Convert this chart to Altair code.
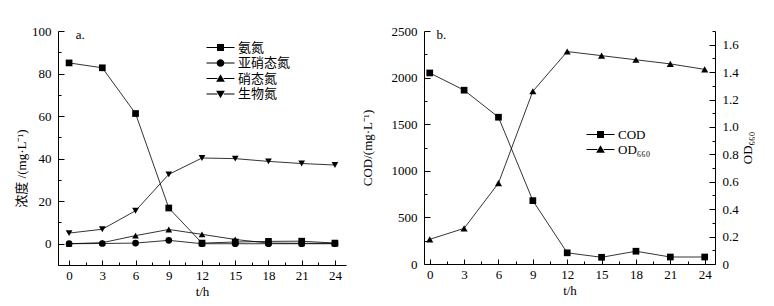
import altair as alt
import pandas as pd

# ---------------- data ----------------
hours = [0, 3, 6, 9, 12, 15, 18, 21, 24]

series_a = ["氨氮", "亚硝态氮", "硝态氮", "生物氮"]
ammonia = [85.0, 82.7, 61.2, 16.8, 0.3, 0.8, 1.1, 1.2, 0.3]
nitrite = [0.0, 0.1, 0.3, 1.6, 0.0, 0.0, 0.0, 0.0, 0.0]
nitrate = [0.0, 0.5, 3.8, 6.7, 4.4, 2.0, 0.3, 0.2, 0.2]
bio_n = [5.0, 6.8, 15.5, 32.6, 40.3, 40.0, 38.7, 37.7, 37.0]

cod = [2050, 1865, 1575, 680, 120, 72, 137, 75, 75]
od660 = [0.18, 0.26, 0.59, 1.26, 1.55, 1.52, 1.49, 1.46, 1.42]
series_b = ["COD", "OD₆₆₀"]

x_major = [0, 3, 6, 9, 12, 15, 18, 21, 24]
x_minor = [1.5, 4.5, 7.5, 10.5, 13.5, 16.5, 19.5, 22.5]
ya_major = [0, 20, 40, 60, 80, 100]
ya_minor = [-10, 10, 30, 50, 70, 90]
cod_major = [0, 500, 1000, 1500, 2000, 2500]
cod_minor = [250, 750, 1250, 1750, 2250]
od_major = [0, 0.2, 0.4, 0.6, 0.8, 1.0, 1.2, 1.4, 1.6]
od_minor = [0.1, 0.3, 0.5, 0.7, 0.9, 1.1, 1.3, 1.5, 1.7]

FONT = "Liberation Serif, Noto Sans CJK SC"
TICK_COLOR = "black"

# legend symbols: short line + marker (fill only)
LINE = "M-4,-0.15H-0.9V0.15H-4ZM0.9,-0.15H4V0.15H0.9Z"
point_shapes_a = ["square", "circle", "triangle-up", "triangle-down"]
legend_paths_a = [
    LINE + "M-1,-1H1V1H-1Z",
    LINE + "M1.1,0A1.1,1.1 0 1,1 -1.1,0A1.1,1.1 0 1,1 1.1,0Z",
    LINE + "M0,-1.2L1.25,0.9H-1.25Z",
    LINE + "M0,1.2L1.25,-0.9H-1.25Z",
]
legend_paths_b = [legend_paths_a[0], legend_paths_a[2]]

rows = []
for name, vals in zip(series_a, [ammonia, nitrite, nitrate, bio_n]):
    for h, v in zip(hours, vals):
        rows.append({"t": h, "v": v, "s": name})
dfa = pd.DataFrame(rows)
dfb = pd.DataFrame({"t": hours, "cod": cod, "od": od660})
dfb_long = pd.DataFrame(
    [{"t": h, "v": v, "s": series_b[0]} for h, v in zip(hours, cod)]
    + [{"t": h, "v": v, "s": series_b[1]} for h, v in zip(hours, od660)]
)


def tick_axis(values, orient, offset, size):
    # tick-only axis placed on the opposite side so its ticks point inward
    return alt.Axis(values=values, orient=orient, offset=offset, labels=False, domain=False,
                    title=None, tickSize=size, tickColor=TICK_COLOR)


def legend(x, y, offset, rowpad):
    return alt.Legend(orient="none", legendX=x, legendY=y, title=None,
                      symbolSize=49, symbolOpacity=1, symbolStrokeWidth=0,
                      symbolFillColor="black", labelFont=FONT, labelFontSize=13,
                      labelColor="black", labelOffset=offset, rowPadding=rowpad, padding=0)


# ---------------- panel a ----------------
WA, HA = 288, 234
xa = alt.Scale(domain=[-1, 25], nice=False, zero=False)
ya = alt.Scale(domain=[-10, 100], nice=False, zero=False)
base_a = alt.Chart(dfa)

lines_a = base_a.mark_line(color="black", strokeWidth=0.8).encode(
    x=alt.X("t:Q", scale=xa, axis=alt.Axis(values=x_major, orient="bottom", title="t/h",
                                            ticks=False, labelPadding=4, titlePadding=3)),
    y=alt.Y("v:Q", scale=ya, axis=alt.Axis(values=ya_major, orient="left",
                                            title="浓度 /(mg·L⁻¹)", ticks=False,
                                            labelPadding=7, titlePadding=3, titleY=137)),
    detail="s:N",
)
points_a = base_a.mark_point(filled=True, color="black", size=45, opacity=1).encode(
    x=alt.X("t:Q", scale=xa, axis=tick_axis(x_major, "top", -HA, 5)),
    y=alt.Y("v:Q", scale=ya, axis=tick_axis(ya_major, "right", -WA, 6)),
    shape=alt.Shape("s:N", scale=alt.Scale(domain=series_a, range=point_shapes_a), legend=None),
)
minor_a = alt.Chart(dfa).mark_point(opacity=0).encode(
    x=alt.X("t:Q", scale=xa, axis=tick_axis(x_minor, "top", -HA, 3)),
    y=alt.Y("v:Q", scale=ya, axis=tick_axis(ya_minor, "right", -WA, 3)),
)
legend_a = base_a.mark_point(filled=True, color="black", strokeWidth=0, opacity=0).encode(
    x=alt.X("t:Q", scale=xa, axis=None),
    y=alt.Y("v:Q", scale=ya, axis=None),
    shape=alt.Shape("s:N", scale=alt.Scale(domain=series_a, range=legend_paths_a),
                    legend=legend(156, 10, 11, 1.5)),
)
text_a = alt.Chart(pd.DataFrame({"t": [0.6], "v": [98], "label": ["a."]})).mark_text(
    font=FONT, fontSize=13, align="left", baseline="middle", color="black"
).encode(
    x=alt.X("t:Q", scale=xa, axis=None),
    y=alt.Y("v:Q", scale=ya, axis=None),
    text="label:N",
)
panel_a = (
    alt.layer(lines_a, points_a, minor_a, legend_a, text_a)
    .resolve_scale(shape="independent")
    .resolve_axis(x="independent", y="independent")
    .properties(width=WA, height=HA)
)

# ---------------- panel b ----------------
WB, HB = 291, 233
xb = alt.Scale(domain=[-0.5, 24.9], nice=False, zero=False)
yb_cod = alt.Scale(domain=[0, 2500], nice=False, zero=False)
yb_od = alt.Scale(domain=[0, 1.7], nice=False, zero=False)
base_b = alt.Chart(dfb)

cod_line = base_b.mark_line(color="black", strokeWidth=0.8).encode(
    x=alt.X("t:Q", scale=xb, axis=alt.Axis(values=x_major, orient="bottom", title="t/h",
                                            ticks=False, labelPadding=4, titlePadding=3)),
    y=alt.Y("cod:Q", scale=yb_cod, axis=alt.Axis(values=cod_major, orient="left", format="d",
                                                 title="COD/(mg·L⁻¹)", ticks=False,
                                                 labelPadding=7, titlePadding=17)),
)
cod_pts = base_b.mark_point(filled=True, color="black", size=45, opacity=1, shape="square").encode(
    x=alt.X("t:Q", scale=xb, axis=tick_axis(x_major, "top", -HB, 5)),
    y=alt.Y("cod:Q", scale=yb_cod, axis=tick_axis(cod_major, "right", -WB, 6)),
)
cod_minor_layer = base_b.mark_point(opacity=0).encode(
    x=alt.X("t:Q", scale=xb, axis=tick_axis(x_minor, "top", -HB, 3)),
    y=alt.Y("cod:Q", scale=yb_cod, axis=tick_axis(cod_minor, "right", -WB, 3)),
)
od_line = base_b.mark_line(color="black", strokeWidth=0.8).encode(
    x=alt.X("t:Q", scale=xb, axis=None),
    y=alt.Y("od:Q", scale=yb_od, axis=alt.Axis(values=od_major, orient="right", title="OD₆₆₀",
                                               ticks=False, labelPadding=7, titlePadding=16,
                                               titleAngle=270,
                                               labelExpr="datum.value == 0 ? '0' : format(datum.value, '.1f')")),
)
od_pts = base_b.mark_point(filled=True, color="black", size=50, opacity=1, shape="triangle-up").encode(
    x=alt.X("t:Q", scale=xb, axis=None),
    y=alt.Y("od:Q", scale=yb_od, axis=tick_axis(od_major, "left", -WB, 6)),
)
od_minor_layer = base_b.mark_point(opacity=0).encode(
    x=alt.X("t:Q", scale=xb, axis=None),
    y=alt.Y("od:Q", scale=yb_od, axis=tick_axis(od_minor, "left", -WB, 3)),
)
legend_b = alt.Chart(dfb_long).mark_point(filled=True, color="black", strokeWidth=0,
                                          opacity=0).encode(
    x=alt.X("t:Q", scale=xb, axis=None),
    y=alt.Y("v:Q", axis=None),
    shape=alt.Shape("s:N", scale=alt.Scale(domain=series_b, range=legend_paths_b),
                    legend=legend(170, 97, 11, 1)),
)
text_b = alt.Chart(pd.DataFrame({"t": [0.6], "v": [2456], "label": ["b."]})).mark_text(
    font=FONT, fontSize=13, align="left", baseline="middle", color="black"
).encode(
    x=alt.X("t:Q", scale=xb, axis=None),
    y=alt.Y("v:Q", scale=yb_cod, axis=None),
    text="label:N",
)
panel_b = (
    alt.layer(cod_line, cod_pts, cod_minor_layer, od_line, od_pts, od_minor_layer,
              legend_b, text_b)
    .resolve_scale(y="independent")
    .resolve_axis(x="independent", y="independent")
    .properties(width=WB, height=HB)
)

chart = (
    alt.hconcat(panel_a, panel_b, spacing=15)
    .resolve_scale(shape="independent")
    .resolve_legend(shape="independent")
    .properties(padding={"left": 7, "top": 17, "right": 0, "bottom": 0})
    .configure_view(stroke=None)
    .configure_axis(domainColor="black", labelColor="black",
                    titleColor="black", labelFont=FONT, labelFontSize=13, titleFont=FONT,
                    titleFontSize=13, titleFontWeight="normal", grid=False)
)

chart.save("out.html", embed_options={"renderer": "svg", "actions": False})
